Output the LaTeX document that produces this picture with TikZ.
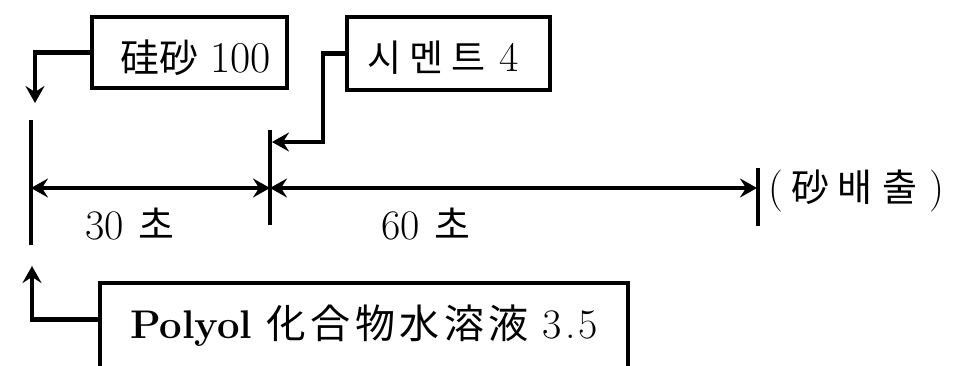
\documentclass[tikz,border=0pt]{standalone}
\usepackage{fontspec}
\newfontfamily\kr{Noto Sans CJK KR}
\usetikzlibrary{arrows.meta,calc}
\newcommand{\krs}[1]{{\kr\fontsize{#1}{44}\selectfont}}
\begin{document}
\begin{tikzpicture}[x=1pt,y=-1pt,
  line width=4.8pt, line join=miter,
  headtip/.style={-{Stealth[length=17pt,width=19pt,inset=6pt]}},
  bothtip/.style={{Stealth[length=17pt,width=19pt,inset=6pt]}-{Stealth[length=17pt,width=19pt,inset=6pt]}},
  box/.style={draw,line width=4.8pt,inner sep=0pt,anchor=base,align=center},
  lat/.style={font=\fontsize{42}{48}\selectfont},
  lbl/.style={inner sep=0pt,anchor=base,font=\fontsize{42}{48}\selectfont}]
\clip (0,0) rectangle (970,366);
\fill[white] (0,0) rectangle (970,366);

% boxes
\node[box,lat,minimum width=195pt,text height=56pt,text depth=15pt] (b1) at (189.5,73)
  {\hspace{12pt}{\kr\fontsize{39}{44}\selectfont 硅砂}\hspace{12pt}{\fontsize{44}{48}\selectfont 100}};
\node[box,lat,minimum width=203pt,text height=55pt,text depth=18pt] (b2) at (448.5,72)
  {{\kr\fontsize{37}{44}\selectfont 시\hspace{8pt}멘\hspace{8pt}트}\hspace{14pt}4\hspace{10pt}};
\node[box,lat,minimum width=528pt,text height=55pt,text depth=42pt] (b3) at (364,338)
  {{\bfseries\fontsize{40}{48}\selectfont Polyol}\hspace{14pt}{\kr\fontsize{40}{44}\selectfont 化\hspace{4.5pt}合\hspace{4.5pt}物\hspace{4.5pt}水\hspace{4.5pt}溶\hspace{4.5pt}液}\hspace{14pt}3\hspace{3pt}.\hspace{3pt}5};

% timeline points
\coordinate (t0) at (31,188);
\coordinate (t1) at (270,188);
\coordinate (t2) at (757,188);
\coordinate (v0a) at (31,120);
\coordinate (v0b) at (31,245);
\coordinate (v1a) at (270,130);
\coordinate (v1b) at (270,225);
\coordinate (v2a) at (758,168);
\coordinate (v2b) at (758,226);

\draw (v0a) -- (v0b);
\draw (v1a) -- (v1b);
\draw (v2a) -- (v2b);
\draw[bothtip] (t0) -- (t1);
\draw[bothtip] (t1) -- (t2);

% feed connectors
\coordinate (a1) at (35,103);
\draw[headtip] (b1.west) -| (a1);
\coordinate (k2) at (323,142);
\coordinate (a2) at (272,142);
\draw[headtip] (b2.west) -| (k2) -- (a2);
\coordinate (s3) at ($(b3.north west)+(0,39)$);
\coordinate (a3) at (32,266);
\draw[headtip] (s3) -| (a3);

% labels
\node[lbl] (l30) at (130,240) {30\hspace{15pt}{\kr\fontsize{39}{44}\selectfont 초}};
\node[lbl] (l60) at (426,240) {60\hspace{15pt}{\kr\fontsize{39}{44}\selectfont 초}};
\node[lbl,anchor=base west] (out) at (766,202)
  {(\hspace{8pt}{\kr\fontsize{38}{44}\selectfont 砂\hspace{8pt}배\hspace{10pt}출}\hspace{12pt})};
\end{tikzpicture}
\end{document}
